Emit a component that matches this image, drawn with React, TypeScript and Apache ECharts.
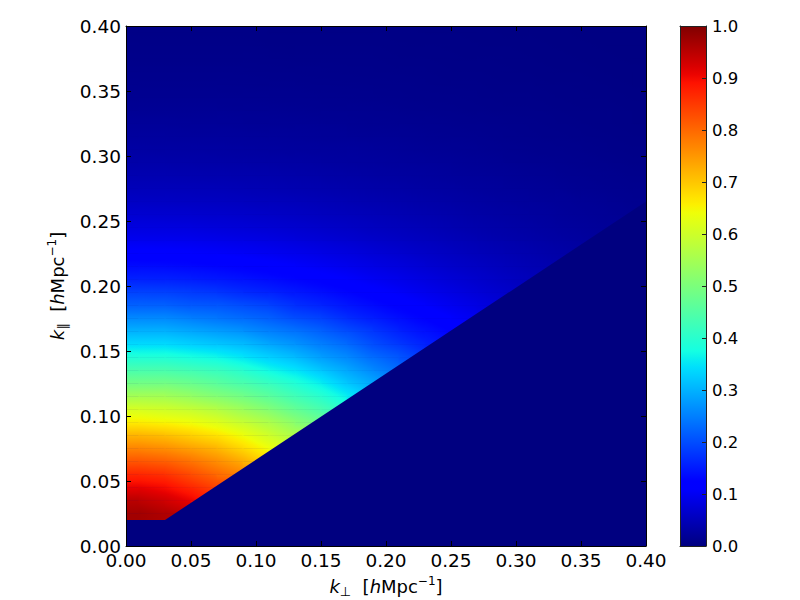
import React, { useEffect, useRef } from "react";
import * as echarts from "echarts";

// Sample positions: column centres (k_perp) and row centres (k_par)
const KPERP = [0.01, 0.03, 0.05, 0.07, 0.09, 0.11, 0.13, 0.15, 0.17, 0.19, 0.21, 0.23, 0.25, 0.27, 0.29, 0.31, 0.33, 0.35, 0.37, 0.39];
const KPAR = [0.025, 0.035, 0.045, 0.055, 0.065, 0.075, 0.085, 0.095, 0.105, 0.115, 0.125, 0.135, 0.145, 0.155, 0.165, 0.175, 0.185, 0.195, 0.205, 0.215, 0.225, 0.235, 0.245, 0.255, 0.265, 0.275, 0.285, 0.295, 0.305, 0.315, 0.325, 0.335, 0.345, 0.355, 0.365, 0.375, 0.385, 0.395];

// Values: one row per k_par, left to right (only samples above the wedge)
const VALUES = [
  [0.97, 0.96, 0.94],
  [0.95, 0.93, 0.91, 0.87],
  [0.91, 0.90, 0.87, 0.84],
  [0.87, 0.86, 0.83, 0.80, 0.77],
  [0.82, 0.81, 0.79, 0.76, 0.73, 0.68],
  [0.77, 0.76, 0.74, 0.72, 0.68, 0.64, 0.60],
  [0.72, 0.71, 0.69, 0.67, 0.64, 0.60, 0.56],
  [0.66, 0.65, 0.64, 0.62, 0.59, 0.56, 0.52, 0.48],
  [0.61, 0.60, 0.59, 0.57, 0.54, 0.51, 0.47, 0.44, 0.40],
  [0.55, 0.55, 0.53, 0.51, 0.49, 0.46, 0.43, 0.40, 0.36, 0.32],
  [0.49, 0.49, 0.48, 0.46, 0.44, 0.42, 0.39, 0.36, 0.32, 0.29, 0.26],
  [0.44, 0.44, 0.43, 0.42, 0.40, 0.37, 0.35, 0.32, 0.29, 0.26, 0.23],
  [0.39, 0.39, 0.38, 0.37, 0.35, 0.33, 0.31, 0.28, 0.26, 0.23, 0.21, 0.18],
  [0.34, 0.34, 0.33, 0.32, 0.31, 0.29, 0.27, 0.25, 0.23, 0.20, 0.18, 0.157, 0.139],
  [0.30, 0.30, 0.29, 0.28, 0.27, 0.25, 0.24, 0.22, 0.20, 0.18, 0.156, 0.14, 0.125],
  [0.26, 0.26, 0.25, 0.24, 0.23, 0.22, 0.20, 0.19, 0.168, 0.152, 0.138, 0.124, 0.11, 0.097],
  [0.22, 0.22, 0.21, 0.21, 0.20, 0.19, 0.17, 0.159, 0.145, 0.134, 0.121, 0.108, 0.097, 0.086, 0.075],
  [0.19, 0.188, 0.183, 0.177, 0.165, 0.157, 0.147, 0.138, 0.128, 0.116, 0.105, 0.095, 0.085, 0.075, 0.066, 0.058],
  [0.157, 0.156, 0.152, 0.147, 0.142, 0.135, 0.128, 0.119, 0.110, 0.100, 0.092, 0.083, 0.074, 0.066, 0.058, 0.051],
  [0.135, 0.134, 0.131, 0.127, 0.122, 0.116, 0.109, 0.102, 0.095, 0.087, 0.080, 0.072, 0.064, 0.058, 0.051, 0.045, 0.040],
  [0.115, 0.114, 0.111, 0.108, 0.104, 0.099, 0.094, 0.088, 0.082, 0.075, 0.069, 0.062, 0.056, 0.050, 0.045, 0.040, 0.035, 0.031],
  [0.097, 0.096, 0.095, 0.092, 0.089, 0.085, 0.080, 0.075, 0.070, 0.064, 0.059, 0.054, 0.049, 0.044, 0.039, 0.035, 0.031, 0.027, 0.024],
  [0.083, 0.082, 0.081, 0.078, 0.075, 0.072, 0.068, 0.064, 0.060, 0.055, 0.051, 0.047, 0.042, 0.038, 0.034, 0.031, 0.027, 0.024, 0.021],
  [0.070, 0.069, 0.068, 0.066, 0.064, 0.061, 0.058, 0.054, 0.051, 0.048, 0.044, 0.040, 0.037, 0.033, 0.030, 0.027, 0.024, 0.021, 0.019, 0.016],
  [0.059, 0.058, 0.057, 0.056, 0.054, 0.052, 0.050, 0.047, 0.044, 0.041, 0.038, 0.035, 0.032, 0.029, 0.026, 0.024, 0.022, 0.019, 0.017, 0.014],
  [0.050, 0.050, 0.049, 0.048, 0.046, 0.044, 0.042, 0.040, 0.038, 0.035, 0.033, 0.030, 0.028, 0.025, 0.023, 0.021, 0.019, 0.016, 0.014, 0.013],
  [0.042, 0.042, 0.041, 0.040, 0.039, 0.038, 0.036, 0.034, 0.032, 0.030, 0.028, 0.026, 0.024, 0.022, 0.020, 0.018, 0.016, 0.014, 0.013, 0.011],
  [0.036, 0.036, 0.035, 0.034, 0.033, 0.032, 0.031, 0.029, 0.027, 0.026, 0.024, 0.023, 0.021, 0.019, 0.017, 0.015, 0.014, 0.012, 0.011, 0.009],
  [0.031, 0.030, 0.030, 0.029, 0.028, 0.027, 0.026, 0.025, 0.025, 0.023, 0.021, 0.019, 0.018, 0.016, 0.014, 0.013, 0.012, 0.011, 0.009, 0.008],
  [0.026, 0.026, 0.025, 0.025, 0.024, 0.023, 0.022, 0.021, 0.020, 0.019, 0.018, 0.016, 0.015, 0.014, 0.012, 0.011, 0.010, 0.009, 0.008, 0.007],
  [0.022, 0.022, 0.021, 0.021, 0.020, 0.019, 0.019, 0.018, 0.017, 0.016, 0.015, 0.014, 0.013, 0.012, 0.011, 0.010, 0.009, 0.008, 0.007, 0.006],
  [0.018, 0.018, 0.018, 0.018, 0.017, 0.017, 0.016, 0.015, 0.015, 0.014, 0.013, 0.012, 0.011, 0.010, 0.009, 0.009, 0.008, 0.007, 0.007, 0.006],
  [0.015, 0.015, 0.015, 0.015, 0.015, 0.014, 0.014, 0.013, 0.012, 0.012, 0.011, 0.010, 0.010, 0.009, 0.008, 0.008, 0.007, 0.006, 0.006, 0.005],
  [0.013, 0.013, 0.013, 0.013, 0.012, 0.012, 0.012, 0.011, 0.011, 0.010, 0.010, 0.009, 0.008, 0.008, 0.007, 0.007, 0.006, 0.006, 0.005, 0.004],
  [0.011, 0.011, 0.011, 0.011, 0.011, 0.010, 0.010, 0.010, 0.009, 0.009, 0.008, 0.008, 0.007, 0.007, 0.006, 0.006, 0.005, 0.005, 0.004, 0.004],
  [0.009, 0.009, 0.009, 0.009, 0.009, 0.009, 0.008, 0.008, 0.008, 0.008, 0.007, 0.007, 0.006, 0.006, 0.006, 0.005, 0.005, 0.004, 0.004, 0.003],
  [0.008, 0.008, 0.008, 0.008, 0.008, 0.007, 0.007, 0.007, 0.007, 0.007, 0.006, 0.006, 0.006, 0.005, 0.005, 0.005, 0.004, 0.004, 0.003, 0.003],
  [0.0065, 0.0065, 0.0065, 0.0065, 0.0065, 0.006, 0.006, 0.006, 0.006, 0.006, 0.0055, 0.005, 0.005, 0.005, 0.004, 0.004, 0.004, 0.003, 0.003, 0.003],
];

// Region with value 0 (below k_par = 0.02 and under the wedge line), as data vertices
const MASK = [[0, 0], [0, 0.02], [0.03, 0.02], [0.4, 0.265], [0.4, 0]];
const FIELD_BOTTOM = 0.02;

const AXIS_MIN = 0;
const AXIS_MAX = 0.4;
const AXIS_STEP = 0.05;
const CBAR_MIN = 0;
const CBAR_MAX = 1;
const CBAR_STEP = 0.1;

const FONT = "DejaVu Sans";

function interp(t: number, pts: number[][]) {
  for (let i = 1; i < pts.length; i++) {
    if (t <= pts[i][0]) {
      const [x0, y0] = pts[i - 1];
      const [x1, y1] = pts[i];
      return y0 + ((t - x0) / (x1 - x0)) * (y1 - y0);
    }
  }
  return pts[pts.length - 1][1];
}
function jet(v: number) {
  const t = Math.max(0, Math.min(1, v));
  const r = interp(t, [[0, 0], [0.35, 0], [0.66, 1], [0.89, 1], [1, 0.5]]);
  const g = interp(t, [[0, 0], [0.125, 0], [0.375, 1], [0.64, 1], [0.91, 0], [1, 0]]);
  const b = interp(t, [[0, 0.5], [0.11, 1], [0.34, 1], [0.65, 0], [1, 0]]);
  const h = (x: number) => Math.round(x * 255).toString(16).padStart(2, "0");
  return "#" + h(r) + h(g) + h(b);
}

function sample(i: number, j: number) {
  const ii = Math.max(0, Math.min(VALUES.length - 1, i));
  const row = VALUES[ii];
  const jj = Math.max(0, Math.min(row.length - 1, j));
  return row[jj];
}

export default function App() {
  const ref = useRef<HTMLDivElement>(null);
  useEffect(() => {
    if (!ref.current) return;
    const chart = echarts.init(ref.current, undefined, { renderer: "svg" });

    // Shaded tiles spanning between neighbouring samples; corners carry the read values
    const tiles: number[][] = [];
    const nR = KPAR.length;
    const nC = KPERP.length;
    for (let I = 0; I <= nR; I++) {
      const y0 = I === 0 ? FIELD_BOTTOM : KPAR[I - 1];
      const y1 = I === nR ? AXIS_MAX : KPAR[I];
      for (let J = 0; J <= nC; J++) {
        const x0 = J === 0 ? AXIS_MIN : KPERP[J - 1];
        const x1 = J === nC ? AXIS_MAX : KPERP[J];
        tiles.push([x0, y0, x1, y1, sample(I - 1, J - 1), sample(I - 1, J), sample(I, J - 1), sample(I, J)]);
      }
    }

    const lineStyle = { color: "#000", width: 1 };
    const tickLabel = { fontSize: 18.5, color: "#000", fontFamily: FONT, margin: 5 };
    const base = { fontFamily: FONT, fontSize: 18, color: "#000" };
    const rich = {
      k: { ...base, fontStyle: "italic" },
      h: { ...base, fontStyle: "italic" },
      sub: { ...base, fontSize: 13, padding: [10, 0, 0, 0] },
      sup: { ...base, fontSize: 12, padding: [0, 0, 11, 0] },
    };
    const cbarStops = [] as { offset: number; color: string }[];
    for (let i = 0; i <= 64; i++) cbarStops.push({ offset: i / 64, color: jet(CBAR_MIN + (i / 64) * (CBAR_MAX - CBAR_MIN)) });

    chart.setOption({
      animation: false,
      backgroundColor: "#fff",
      grid: [
        { left: 126, top: 26, width: 520, height: 520, show: true, backgroundColor: "#000080", borderWidth: 0, containLabel: false, outerBoundsMode: "none" },
        { left: 680, top: 26, width: 26, height: 520, containLabel: false, outerBoundsMode: "none" },
      ],
      xAxis: [
        {
          gridIndex: 0, type: "value", position: "bottom", min: AXIS_MIN, max: AXIS_MAX, interval: AXIS_STEP,
          axisLine: { show: true, onZero: false, lineStyle },
          axisTick: { show: true, inside: true, length: 5, lineStyle },
          axisLabel: { ...tickLabel, formatter: (v: number) => v.toFixed(2) },
          splitLine: { show: false },
          name: "{k|k}{sub|⊥}  [{h|h}Mpc{sup|−1}]",
          nameLocation: "middle", nameGap: 29,
          nameTextStyle: { ...base, rich },
          z: 10,
        },
        {
          gridIndex: 0, type: "value", position: "top", min: AXIS_MIN, max: AXIS_MAX, interval: AXIS_STEP,
          axisLine: { show: true, onZero: false, lineStyle },
          axisTick: { show: true, inside: true, length: 5, lineStyle },
          axisLabel: { show: false }, splitLine: { show: false }, z: 10,
        },
        {
          gridIndex: 1, type: "value", position: "bottom", min: 0, max: 1,
          axisLine: { show: true, onZero: false, lineStyle: { color: "#222", width: 1 } },
          axisTick: { show: false }, axisLabel: { show: false }, splitLine: { show: false }, z: 10,
        },
        {
          gridIndex: 1, type: "value", position: "top", min: 0, max: 1,
          axisLine: { show: true, onZero: false, lineStyle: { color: "#222", width: 1 } },
          axisTick: { show: false }, axisLabel: { show: false }, splitLine: { show: false }, z: 10,
        },
      ],
      yAxis: [
        {
          gridIndex: 0, type: "value", position: "left", min: AXIS_MIN, max: AXIS_MAX, interval: AXIS_STEP,
          axisLine: { show: true, onZero: false, lineStyle },
          axisTick: { show: true, inside: true, length: 5, lineStyle },
          axisLabel: { ...tickLabel, formatter: (v: number) => v.toFixed(2) },
          splitLine: { show: false },
          name: "{k|k}{sub|∥}  [{h|h}Mpc{sup|−1}]",
          nameLocation: "middle", nameGap: 54,
          nameTextStyle: { ...base, rich },
          z: 10,
        },
        {
          gridIndex: 0, type: "value", position: "right", min: AXIS_MIN, max: AXIS_MAX, interval: AXIS_STEP,
          axisLine: { show: true, onZero: false, lineStyle },
          axisTick: { show: true, inside: true, length: 5, lineStyle },
          axisLabel: { show: false }, splitLine: { show: false }, z: 10,
        },
        {
          gridIndex: 1, type: "value", position: "right", min: CBAR_MIN, max: CBAR_MAX, interval: CBAR_STEP,
          axisLine: { show: true, onZero: false, lineStyle: { color: "#222", width: 1 } },
          axisTick: { show: true, inside: true, length: 4, lineStyle: { color: "#222" } },
          axisLabel: { fontSize: 16.5, color: "#000", fontFamily: FONT, margin: 6, formatter: (v: number) => v.toFixed(1) },
          splitLine: { show: false }, z: 10,
        },
        {
          gridIndex: 1, type: "value", position: "left", min: CBAR_MIN, max: CBAR_MAX,
          axisLine: { show: true, onZero: false, lineStyle: { color: "#222", width: 1 } },
          axisTick: { show: false }, axisLabel: { show: false }, splitLine: { show: false }, z: 10,
        },
      ],
      series: [
        {
          type: "custom", xAxisIndex: 0, yAxisIndex: 0, clip: true, data: tiles,
          encode: { x: [0, 2], y: [1, 3] },
          renderItem: (params: any, api: any) => {
            const x0 = api.value(0), y0 = api.value(1), x1 = api.value(2), y1 = api.value(3);
            const bl = api.value(4), br = api.value(5), tl = api.value(6), tr = api.value(7);
            const pBL = api.coord([x0, y0]);
            const pTR = api.coord([x1, y1]);
            const w = pTR[0] - pBL[0];
            const h = pBL[1] - pTR[1];
            const b = (br - bl + (tr - tl)) / 2;
            const c = (tl - bl + (tr - br)) / 2;
            const vc = (bl + br + tl + tr) / 4;
            const cx = pBL[0] + w / 2;
            const cy = pTR[1] + h / 2;
            const gx = b / w;
            const gy = -c / h;
            const gm = Math.sqrt(gx * gx + gy * gy);
            let fill: any = jet(vc);
            if (gm > 1e-7) {
              const ux = gx / gm, uy = gy / gm;
              const L = Math.sqrt(w * w + h * h) / 2;
              const v0 = vc - gm * L, v1 = vc + gm * L;
              const stops = [];
              for (let k = 0; k <= 8; k++) stops.push({ offset: k / 8, color: jet(v0 + (k / 8) * (v1 - v0)) });
              fill = new echarts.graphic.LinearGradient(cx - ux * L, cy - uy * L, cx + ux * L, cy + uy * L, stops, true);
            }
            return {
              type: "rect",
              shape: { x: pBL[0] - 0.3, y: pTR[1] - 0.3, width: w + 0.6, height: h + 0.6 },
              style: { fill },
            };
          },
        },
        {
          type: "custom", xAxisIndex: 0, yAxisIndex: 0, clip: true, data: [[0, 0]],
          encode: { x: 0, y: 1 },
          renderItem: (params: any, api: any) => ({
            type: "polygon",
            shape: { points: MASK.map((p) => api.coord(p)) },
            style: { fill: "#000080" },
          }),
        },
        {
          type: "custom", xAxisIndex: 2, yAxisIndex: 2, clip: true, data: [[0, CBAR_MIN, 1, CBAR_MAX]],
          encode: { x: [0, 2], y: [1, 3] },
          renderItem: (params: any, api: any) => {
            const p0 = api.coord([api.value(0), api.value(3)]);
            const p1 = api.coord([api.value(2), api.value(1)]);
            return {
              type: "rect",
              shape: { x: p0[0], y: p0[1], width: p1[0] - p0[0], height: p1[1] - p0[1] },
              style: { fill: new echarts.graphic.LinearGradient(0, 1, 0, 0, cbarStops) },
            };
          },
        },
      ],
    });
    return () => chart.dispose();
  }, []);
  return <div ref={ref} style={{ position: "absolute", left: 0, top: 0, width: 800, height: 600 }} />;
}
